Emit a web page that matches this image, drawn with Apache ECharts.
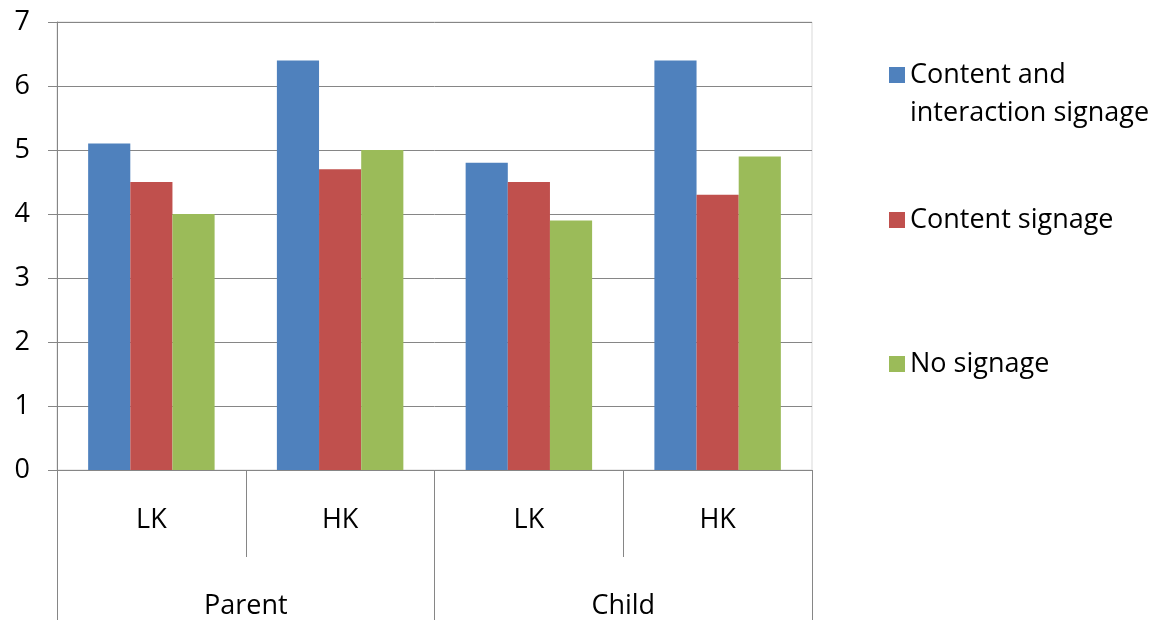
<!DOCTYPE html>
<html>
<head>
<meta charset="utf-8">
<script src="https://cdn.jsdelivr.net/npm/echarts@6/dist/echarts.min.js"></script>
<style>
  html, body { margin: 0; padding: 0; background: #fff; }
  #chart { width: 1157px; height: 620px; }
</style>
</head>
<body>
<div id="chart"></div>
<script>
// categories (inner + outer level)
const subCategories = ["LK", "HK", "LK", "HK"];
const groups = ["Parent", "Child"];

// series values
const seriesNames = ["Content and interaction signage", "Content signage", "No signage"];
const contentInteraction = [5.1, 6.4, 4.8, 6.4];
const contentOnly = [4.5, 4.7, 4.5, 4.3];
const noSignage = [4.0, 5.0, 3.9, 4.9];

const yTicks = [0, 1, 2, 3, 4, 5, 6, 7];

const colors = ["#4F81BD", "#C0504D", "#9BBB59"];
const font = "'Open Sans', 'Liberation Sans', sans-serif";
const fontSize = 27;
const lineGray = "#868686";

let myChart = echarts.init(document.getElementById("chart"));

// one legend per item so the markers can sit where the reference puts them
function makeLegend(name, top, multiLine) {
  return {
    data: [name],
    orient: "vertical",
    left: 889,
    top: top,
    padding: 0,
    itemWidth: 16,
    itemHeight: 16,
    itemGap: 0,
    icon: "rect",
    selectedMode: false,
    formatter: function (n) {
      // blank first line keeps the marker level with "Content and"
      return multiLine ? " \nContent and\ninteraction signage" : n;
    },
    textStyle: {
      fontFamily: font,
      fontSize: fontSize,
      color: "#000",
      lineHeight: 38,
    },
  };
}

myChart.setOption({
  animation: false,
  textStyle: { fontFamily: font },
  grid: {
    left: 57,
    right: 345,
    top: 22,
    bottom: 150,
    show: true,
    borderColor: "#d9d9d9",
    borderWidth: 1,
  },
  legend: [
    makeLegend(seriesNames[0], 18, true),
    makeLegend(seriesNames[1], 201, false),
    makeLegend(seriesNames[2], 345, false),
  ],
  xAxis: [
    {
      type: "category",
      data: subCategories,
      position: "bottom",
      axisLine: { show: true, lineStyle: { color: lineGray, width: 1 } },
      axisTick: { show: true, length: 87, lineStyle: { color: lineGray } },
      axisLabel: {
        margin: 37,
        fontFamily: font,
        fontSize: fontSize,
        color: "#000",
      },
    },
    {
      type: "category",
      data: groups,
      position: "bottom",
      axisLine: { show: false },
      axisTick: { show: true, length: 160, lineStyle: { color: lineGray } },
      axisLabel: {
        margin: 123,
        fontFamily: font,
        fontSize: fontSize,
        color: "#000",
      },
    },
  ],
  yAxis: {
    type: "value",
    min: yTicks[0],
    max: yTicks[yTicks.length - 1],
    interval: 1,
    axisLine: { show: true, lineStyle: { color: lineGray } },
    axisTick: { show: true, length: 9, lineStyle: { color: lineGray } },
    splitLine: { show: true, lineStyle: { color: lineGray } },
    axisLabel: {
      margin: 27,
      fontFamily: font,
      fontSize: fontSize,
      color: "#000",
    },
  },
  series: [
    {
      name: seriesNames[0],
      type: "bar",
      data: contentInteraction,
      barGap: "0%",
      barCategoryGap: "33%",
      itemStyle: { color: colors[0] },
    },
    {
      name: seriesNames[1],
      type: "bar",
      data: contentOnly,
      itemStyle: { color: colors[1] },
    },
    {
      name: seriesNames[2],
      type: "bar",
      data: noSignage,
      itemStyle: { color: colors[2] },
    },
  ],
});
</script>
</body>
</html>
